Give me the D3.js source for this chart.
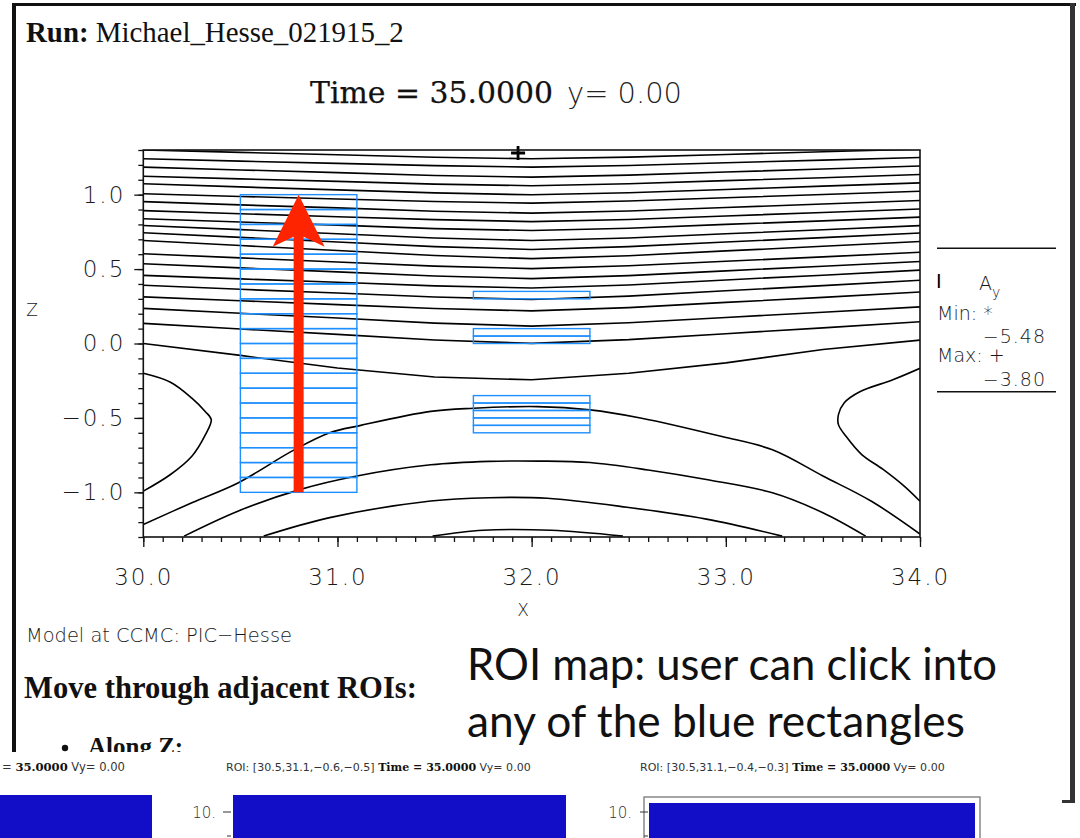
<!DOCTYPE html>
<html><head><meta charset="utf-8">
<script src="https://cdn.jsdelivr.net/npm/d3@7"></script>
<style>body{margin:0;background:#fff;} svg{display:block;}</style>
</head><body><svg id="c" width="1080" height="838"></svg>
<script>
// ---------------- DATA ----------------
const runLabel = "Michael_Hesse_021915_2";
const timeLabel = "Time = 35.0000";
const yLabel = "y= 0.00";
const modelLabel = "Model at CCMC: PIC\u2212Hesse";

// contour columns (x) and upper contour lines (z at each column)
const contourX = [30, 30.5, 31, 31.5, 32, 32.5, 33, 33.5, 34];
const upperLines = [
  [1.301, 1.284, 1.268, 1.251, 1.241, 1.252, 1.270, 1.288, 1.306],
  [1.241, 1.225, 1.210, 1.195, 1.185, 1.196, 1.214, 1.232, 1.250],
  [1.185, 1.166, 1.148, 1.129, 1.118, 1.131, 1.152, 1.172, 1.193],
  [1.124, 1.106, 1.089, 1.071, 1.060, 1.073, 1.094, 1.114, 1.135],
  [1.073, 1.052, 1.032, 1.012, 0.999, 1.013, 1.035, 1.057, 1.079],
  [1.006, 0.988, 0.971, 0.954, 0.943, 0.957, 0.979, 1.001, 1.023],
  [0.953, 0.931, 0.911, 0.889, 0.876, 0.890, 0.914, 0.937, 0.961],
  [0.893, 0.872, 0.852, 0.832, 0.819, 0.833, 0.857, 0.880, 0.904],
  [0.838, 0.816, 0.795, 0.772, 0.759, 0.774, 0.800, 0.824, 0.849],
  [0.793, 0.765, 0.737, 0.709, 0.692, 0.709, 0.737, 0.764, 0.792],
  [0.744, 0.713, 0.682, 0.651, 0.632, 0.651, 0.682, 0.711, 0.742],
  [0.692, 0.658, 0.625, 0.591, 0.570, 0.590, 0.622, 0.653, 0.685],
  [0.603, 0.575, 0.548, 0.520, 0.503, 0.522, 0.553, 0.582, 0.613],
  [0.536, 0.508, 0.481, 0.453, 0.436, 0.456, 0.488, 0.519, 0.551],
  [0.458, 0.434, 0.411, 0.387, 0.373, 0.393, 0.427, 0.459, 0.493],
  [0.391, 0.364, 0.339, 0.312, 0.296, 0.318, 0.354, 0.389, 0.425],
  [0.313, 0.287, 0.261, 0.235, 0.219, 0.241, 0.276, 0.310, 0.346],
  [0.236, 0.203, 0.171, 0.137, 0.117, 0.139, 0.175, 0.210, 0.246],
  [0.135, 0.097, 0.061, 0.024, 0.001, 0.026, 0.066, 0.105, 0.146],
  [0.000, -0.080, -0.165, -0.225, -0.244, -0.200, -0.130, -0.040, 0.023]
];
// lower arch contours, [x, z] points
const lowerArches = [
  [[30,-1.216],[30.25,-1.07],[30.49,-0.935],[30.77,-0.72],[30.96,-0.60],[31.12,-0.55],[31.48,-0.456],[31.7,-0.435],[32.03,-0.424],[32.3,-0.446],[32.56,-0.50],[32.98,-0.625],[33.24,-0.714],[33.5,-0.89],[33.75,-1.06],[34,-1.28]],
  [[30.21,-1.294],[30.49,-1.125],[30.81,-0.98],[31.1,-0.89],[31.48,-0.815],[31.78,-0.792],[32.04,-0.79],[32.3,-0.80],[32.6,-0.85],[32.9,-0.914],[33.24,-1.003],[33.5,-1.137],[33.72,-1.294]],
  [[30.62,-1.294],[30.96,-1.17],[31.48,-1.058],[31.78,-1.036],[32.08,-1.04],[32.49,-1.10],[32.9,-1.18],[33.29,-1.294]],
  [[31.49,-1.294],[31.75,-1.255],[32.1,-1.255],[32.47,-1.294]]
];
const leftLoop = [[30.0,-0.20],[30.14,-0.26],[30.25,-0.367],[30.32,-0.458],[30.35,-0.512],[30.32,-0.612],[30.25,-0.757],[30.14,-0.88],[30.0,-0.992]];
const rightLoop = [[34.0,-0.167],[33.86,-0.244],[33.69,-0.324],[33.61,-0.398],[33.58,-0.478],[33.58,-0.545],[33.62,-0.625],[33.70,-0.746],[33.81,-0.846],[33.92,-0.96],[34.0,-1.06]];

// ROI rectangles
const roiLeftX = [30.5, 31.1];
const roiLeftZ = [-1.0,-0.9,-0.8,-0.7,-0.6,-0.5,-0.4,-0.3,-0.2,-0.1,0.0,0.1,0.2,0.3,0.4,0.5,0.6,0.7,0.8,0.9,1.0];
const roiMidX = [31.7, 32.3];
const roiMidZ = [[0.30,0.35],[0.0,0.05,0.10],[-0.60,-0.55,-0.50,-0.45,-0.40,-0.35]];
const arrowX = 30.8, arrowZ = [-1.0, 1.0];
const maxMark = [31.93, 1.28];

// axes
const xDomain = [30, 34], zDomain = [-1.3, 1.3];
const xTicks = [30, 31, 32, 33, 34];
const xTickLabels = ["30.0", "31.0", "32.0", "33.0", "34.0"];
const zTicks = [-1.0, -0.5, 0.0, 0.5, 1.0];
const zTickLabels = ["\u22121.0", "\u22120.5", "0.0", "0.5", "1.0"];

// legend
const legendVar = "A";
const legendMin = "\u22125.48", legendMax = "\u22123.80";

// bottom strip
const stripTexts = [
  {pre: "= ", bold: "35.0000", post: " Vy= 0.00"},
  {pre: "ROI: [30.5,31.1,\u22120.6,\u22120.5] ", bold: "Time = 35.0000", post: " Vy= 0.00"},
  {pre: "ROI: [30.5,31.1,\u22120.4,\u22120.3] ", bold: "Time = 35.0000", post: " Vy= 0.00"}
];
const stripTickLabel = "10.";

// ---------------- DRAW ----------------
const svg = d3.select("#c");
const W = 1080, H = 838;
svg.append("rect").attr("width", W).attr("height", H).attr("fill", "#fff");

function fit(sel, w) {
  const n = sel.node();
  const cur = n.getComputedTextLength();
  const fs = parseFloat(sel.attr("font-size"));
  if (cur > 0) sel.attr("font-size", (fs * w / cur).toFixed(2));
  return sel;
}
const SERIF = "'DejaVu Serif', 'Liberation Serif', serif";
const GEORG = "'Liberation Serif', 'DejaVu Serif', serif";
const IDL = "'DejaVu Sans', 'Liberation Sans', sans-serif";
const CAL = "Lato, 'Open Sans', sans-serif";

// screenshot border
svg.append("rect").attr("x", 12).attr("y", 3).attr("width", 4).attr("height", 752).attr("fill", "#111");
svg.append("rect").attr("x", 12).attr("y", 3).attr("width", 1064).attr("height", 3).attr("fill", "#111");
svg.append("rect").attr("x", 1070).attr("y", 3).attr("width", 5).attr("height", 800).attr("fill", "#333");

// header
const run = svg.append("text").attr("x", 26).attr("y", 42).attr("font-family", GEORG).attr("font-size", 24).attr("fill", "#111");
run.append("tspan").attr("font-weight", "bold").text("Run:");
run.append("tspan").text(" " + runLabel);
fit(run, 378);

const t1 = svg.append("text").attr("x", 310).attr("y", 103).attr("font-family", SERIF).attr("font-size", 26).attr("fill", "#111")
  .attr("stroke", "#111").attr("stroke-width", 0.25).text(timeLabel);
fit(t1, 243);
const t2 = svg.append("text").attr("x", 567).attr("y", 103).attr("font-family", IDL).attr("font-weight", 200).attr("font-size", 26).attr("fill", "#222").text(yLabel);
fit(t2, 115);

// scales
const x = d3.scaleLinear().domain(xDomain).range([143.3, 920]);
const y = d3.scaleLinear().domain(zDomain).range([537, 150]);

svg.append("clipPath").attr("id", "plotclip").append("rect")
  .attr("x", x(30)).attr("y", y(1.3)).attr("width", x(34) - x(30)).attr("height", y(-1.3) - y(1.3));

const plot = svg.append("g").attr("clip-path", "url(#plotclip)");
const line = d3.line().x(d => x(d[0])).y(d => y(d[1]));
const lineC = d3.line().x(d => x(d[0])).y(d => y(d[1])).curve(d3.curveCatmullRom);

const cStyle = s => s.attr("fill", "none").attr("stroke", "#000").attr("stroke-width", 1.6);
upperLines.forEach(zs => {
  plot.append("path").datum(zs.map((z, i) => [contourX[i], z])).attr("d", line).call(cStyle);
});
lowerArches.forEach(pts => plot.append("path").datum(pts).attr("d", lineC).call(cStyle));
plot.append("path").datum(leftLoop).attr("d", lineC).call(cStyle);
plot.append("path").datum(rightLoop).attr("d", lineC).call(cStyle);

// ROI rectangles
const roi = svg.append("g").attr("fill", "none").attr("stroke", "#1e8fff").attr("stroke-width", 1.4);
for (let i = 0; i < roiLeftZ.length - 1; i++) {
  roi.append("rect").attr("x", x(roiLeftX[0])).attr("y", y(roiLeftZ[i + 1]))
    .attr("width", x(roiLeftX[1]) - x(roiLeftX[0])).attr("height", y(roiLeftZ[i]) - y(roiLeftZ[i + 1]));
}
roiMidZ.forEach(grp => {
  for (let i = 0; i < grp.length - 1; i++) {
    roi.append("rect").attr("x", x(roiMidX[0])).attr("y", y(grp[i + 1]))
      .attr("width", x(roiMidX[1]) - x(roiMidX[0])).attr("height", y(grp[i]) - y(grp[i + 1]));
  }
});

// red arrow
{
  const cx = x(arrowX), top = y(arrowZ[1]), bot = y(arrowZ[0]);
  const hw = 5, wing = 26, headLen = 52, notch = 42;
  const pts = [[cx, top], [cx + wing, top + headLen], [cx + hw, top + notch], [cx + hw, bot], [cx - hw, bot], [cx - hw, top + notch], [cx - wing, top + headLen]];
  svg.append("path").attr("d", "M" + pts.map(p => p.join(",")).join("L") + "Z").attr("fill", "#ff2400");
}

// max marker
{
  const mx = x(maxMark[0]), my = y(maxMark[1]);
  svg.append("path").attr("d", `M${mx - 7},${my}H${mx + 7}M${mx},${my - 7}V${my + 7}`).attr("stroke", "#000").attr("stroke-width", 2.8);
}

// frame
svg.append("rect").attr("x", x(30)).attr("y", y(1.3)).attr("width", x(34) - x(30)).attr("height", y(-1.3) - y(1.3))
  .attr("fill", "none").attr("stroke", "#111").attr("stroke-width", 1.6);

// axes
const xMinor = d3.range(30, 34.0001, 0.1);
const zMinor = d3.range(-1.3, 1.3001, 0.1);
const axB = svg.append("g").attr("transform", `translate(0,${y(-1.3)})`);
axB.call(d3.axisBottom(x).tickValues(xMinor).tickSize(5).tickSizeOuter(0).tickFormat(""));
const axB2 = svg.append("g").attr("transform", `translate(0,${y(-1.3)})`);
axB2.call(d3.axisBottom(x).tickValues(xTicks).tickSize(10).tickSizeOuter(0).tickPadding(22).tickFormat((d, i) => xTickLabels[i]));
const axL = svg.append("g").attr("transform", `translate(${x(30)},0)`);
axL.call(d3.axisLeft(y).tickValues(zMinor).tickSize(5).tickSizeOuter(0).tickFormat(""));
const axL2 = svg.append("g").attr("transform", `translate(${x(30)},0)`);
axL2.call(d3.axisLeft(y).tickValues(zTicks).tickSize(9).tickSizeOuter(0).tickPadding(9).tickFormat((d, i) => zTickLabels[i]));
[axB, axB2, axL, axL2].forEach(g => {
  g.select(".domain").remove();
  g.selectAll("line").attr("stroke", "#111").attr("stroke-width", 1.3);
  g.selectAll("text").attr("font-family", IDL).attr("font-weight", 200).attr("font-size", 23).attr("fill", "#1a1a1a").attr("letter-spacing", 2);
});

// axis titles
svg.append("text").attr("x", 523).attr("y", 616).attr("text-anchor", "middle").attr("font-family", IDL).attr("font-weight", 200).attr("font-size", 17).attr("fill", "#222").text("X");
svg.append("text").attr("x", 32).attr("y", 316).attr("text-anchor", "middle").attr("font-family", IDL).attr("font-weight", 200).attr("font-size", 17).attr("fill", "#222").text("Z");

// legend
const lg = svg.append("g").attr("font-family", IDL).attr("font-weight", 200).attr("fill", "#1a1a1a").attr("font-size", 19);
lg.append("line").attr("x1", 937).attr("x2", 1056).attr("y1", 248.3).attr("y2", 248.3).attr("stroke", "#111").attr("stroke-width", 1.5);
lg.append("line").attr("x1", 937).attr("x2", 1056).attr("y1", 391.7).attr("y2", 391.7).attr("stroke", "#111").attr("stroke-width", 1.5);
lg.append("text").attr("x", 936).attr("y", 288).attr("font-weight", "normal").attr("fill", "#000").text("I");
const av = lg.append("text").attr("x", 979).attr("y", 290);
av.append("tspan").text(legendVar);
av.append("tspan").attr("font-size", 14).attr("dy", 7).text("y");
lg.append("text").attr("x", 937).attr("y", 320).text("Min: *");
lg.append("text").attr("x", 1046).attr("y", 343).attr("text-anchor", "end").attr("letter-spacing", 1).text(legendMin);
lg.append("text").attr("x", 937).attr("y", 362).text("Max: +");
lg.append("text").attr("x", 1046).attr("y", 386).attr("text-anchor", "end").attr("letter-spacing", 1).text(legendMax);

// footer texts
const md = svg.append("text").attr("x", 26).attr("y", 642).attr("font-family", IDL).attr("font-weight", 200).attr("font-size", 16).attr("fill", "#1a1a1a").text(modelLabel);
fit(md, 266);
const mv = svg.append("text").attr("x", 24).attr("y", 698).attr("font-family", GEORG).attr("font-weight", "bold").attr("font-size", 25).attr("fill", "#111").text("Move through adjacent ROIs:");
fit(mv, 393);
svg.append("clipPath").attr("id", "alongclip").append("rect").attr("x", 0).attr("y", 700).attr("width", 400).attr("height", 52);
const along = svg.append("g").attr("clip-path", "url(#alongclip)");
along.append("circle").attr("cx", 65).attr("cy", 748).attr("r", 3.2).attr("fill", "#111");
along.append("text").attr("x", 88).attr("y", 755).attr("font-family", GEORG).attr("font-weight", "bold").attr("font-size", 25).attr("fill", "#111").text("Along Z:");

const r1 = svg.append("text").attr("x", 467).attr("y", 680).attr("font-family", CAL).attr("font-size", 40).attr("fill", "#111").text("ROI map: user can click into");
fit(r1, 530);
const r2 = svg.append("text").attr("x", 467).attr("y", 737).attr("font-family", CAL).attr("font-size", 40).attr("fill", "#111").text("any of the blue rectangles");
fit(r2, 498);

// bottom strip (overlaid screenshot)
const st = svg.append("g");
st.append("rect").attr("x", 0).attr("y", 752).attr("width", 1066).attr("height", 86).attr("fill", "#fff");
const stripX = [[2, 125], [226, 531], [640, 945]];
stripTexts.forEach((s, i) => {
  const t = st.append("text").attr("x", stripX[i][0]).attr("y", 771).attr("font-family", IDL).attr("font-size", 11).attr("fill", "#333");
  t.append("tspan").text(s.pre);
  t.append("tspan").attr("font-family", SERIF).attr("font-weight", "bold").attr("fill", "#111").text(s.bold);
  t.append("tspan").text(s.post);
  fit(t, stripX[i][1] - stripX[i][0]);
});
const barBlue = "#120ec8";
st.append("rect").attr("x", 0).attr("y", 795).attr("width", 152).attr("height", 43).attr("fill", barBlue);
st.append("rect").attr("x", 233).attr("y", 795).attr("width", 333).attr("height", 43).attr("fill", barBlue);
st.append("rect").attr("x", 644).attr("y", 797).attr("width", 336).attr("height", 45).attr("fill", "none").attr("stroke", "#888").attr("stroke-width", 1.5);
st.append("rect").attr("x", 649).attr("y", 803).attr("width", 326).attr("height", 35).attr("fill", barBlue);
[[216, 223], [632, 640]].forEach(p => {
  st.append("text").attr("x", p[0]).attr("y", 818).attr("text-anchor", "end").attr("font-family", IDL).attr("font-weight", 200).attr("font-size", 15).attr("fill", "#333").text(stripTickLabel);
  st.append("line").attr("x1", p[1]).attr("x2", p[1] + 8).attr("y1", 812).attr("y2", 812).attr("stroke", "#333").attr("stroke-width", 1);
  st.append("line").attr("x1", p[1] + 4).attr("x2", p[1] + 8).attr("y1", 836).attr("y2", 836).attr("stroke", "#333").attr("stroke-width", 1);
});
// right border foot
svg.append("rect").attr("x", 1062).attr("y", 800).attr("width", 13).attr("height", 3).attr("fill", "#333");
</script></body></html>
